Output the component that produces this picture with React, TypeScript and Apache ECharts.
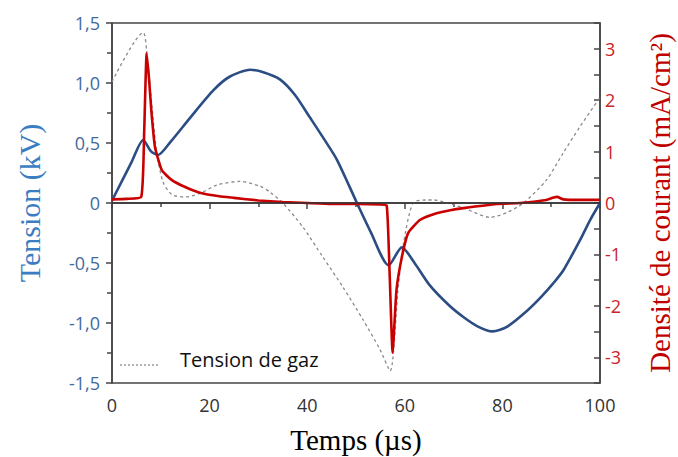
import React, { useEffect, useRef } from "react";
import * as echarts from "echarts";

// Temps (µs) and tension (kV) — blue curve
const tensionTime = [0, 2, 4, 6.4, 8, 9.4, 12, 16, 20.8, 24, 28.3, 31, 34.4, 37.5, 40.6, 43.5, 46.1, 50.2, 53, 56.7, 59.4, 62, 65, 69, 72, 75, 78, 81, 85, 88, 90.4, 92.5, 95.9, 98, 100];
const tensionValues = [0.02, 0.18, 0.34, 0.525, 0.43, 0.4, 0.51, 0.71, 0.94, 1.05, 1.11, 1.09, 1.03, 0.9, 0.71, 0.53, 0.36, 0.0, -0.24, -0.52, -0.37, -0.5, -0.68, -0.85, -0.95, -1.03, -1.07, -1.03, -0.9, -0.78, -0.67, -0.56, -0.31, -0.14, 0.0];

// Densité de courant (mA/cm²) — red curve
const currentTime = [0, 3, 6, 6.6, 7.1, 7.6, 8.1, 8.8, 10.2, 12.2, 15, 18, 22, 25, 30, 35, 40, 45, 50, 55, 56.3, 56.9, 57.5, 58.3, 59.4, 60.7, 63.1, 66.5, 69.3, 72, 78.9, 83.6, 89, 90.3, 91.2, 92.5, 96, 100];
const currentValues = [0.07, 0.08, 0.12, 1.4, 2.91, 2.4, 1.75, 1.09, 0.64, 0.45, 0.31, 0.2, 0.13, 0.1, 0.05, 0.02, 0.0, -0.02, -0.02, -0.03, -0.05, -1.4, -2.91, -1.69, -1.05, -0.58, -0.33, -0.2, -0.14, -0.1, -0.02, 0.0, 0.06, 0.1, 0.12, 0.07, 0.06, 0.06];

// Tension de gaz (kV) — grey dashed curve
const gasTime = [0, 6.4, 7.1, 8.2, 9.2, 10.5, 12.3, 15, 18, 21.5, 26.2, 30.3, 32.4, 35, 39.1, 43.2, 47.3, 51.4, 54.9, 57, 58.6, 59.6, 61.7, 64.5, 66, 68.6, 72, 77.5, 80.9, 84.3, 89, 92.5, 95.8, 100];
const gasValues = [1.01, 1.42, 1.27, 0.8, 0.41, 0.17, 0.07, 0.05, 0.08, 0.15, 0.18, 0.14, 0.09, 0.0, -0.2, -0.45, -0.7, -0.97, -1.22, -1.4, -0.73, -0.37, 0.0, 0.025, 0.025, 0.0, -0.04, -0.12, -0.08, 0.0, 0.19, 0.42, 0.63, 0.88];

const xTicks = { min: 0, max: 100, step: 20 };
const leftTicks = { min: -1.5, max: 1.5, step: 0.5 };
const rightTicks = { min: -3.5, max: 3.5, step: 0.5 };
const legendLabel = "Tension de gaz";

const pairs = (xs: number[], ys: number[]) => xs.map((x, i) => [x, ys[i]]);

export default function App() {
  const ref = useRef<HTMLDivElement>(null);
  useEffect(() => {
    if (!ref.current) return;
    const chart = echarts.init(ref.current, null, { renderer: "svg" });
    const sans = "Open Sans";
    const serif = "Liberation Serif";
    const axisColor = "#444";
    chart.setOption({
      animation: false,
      backgroundColor: "#ffffff",
      grid: {
        left: 112,
        right: 78,
        top: 23,
        bottom: 74,
        containLabel: false,
        outerBoundsMode: "none",
        show: true,
        borderColor: axisColor,
        borderWidth: 1.5,
        backgroundColor: "transparent",
      },
      graphic: [
        {
          type: "line",
          shape: { x1: 120, y1: 365, x2: 160, y2: 365 },
          style: { stroke: "#999", lineWidth: 1.3, lineDash: [2, 2] },
          silent: true,
        },
        {
          type: "text",
          x: 180,
          y: 359,
          style: {
            text: legendLabel,
            fontFamily: sans,
            fontSize: 20,
            fill: "#111",
            textVerticalAlign: "middle",
            textAlign: "left",
          },
          silent: true,
        },
      ],
      xAxis: {
        type: "value",
        min: xTicks.min,
        max: xTicks.max,
        interval: xTicks.step,
        name: "Temps (µs)",
        nameLocation: "middle",
        nameGap: 42,
        nameTextStyle: { fontFamily: serif, fontSize: 29, color: "#000" },
        axisLine: { show: true, lineStyle: { color: axisColor, width: 1.5 } },
        axisTick: { show: true, length: 6, lineStyle: { color: axisColor, width: 1.5 } },
        minorTick: { show: true, splitNumber: 2, length: 4, lineStyle: { color: axisColor, width: 1.5 } },
        splitLine: { show: false },
        minorSplitLine: { show: false },
        axisLabel: { fontFamily: sans, fontSize: 18, color: "#333", margin: 13 },
      },
      yAxis: [
        {
          type: "value",
          position: "left",
          min: leftTicks.min,
          max: leftTicks.max,
          interval: leftTicks.step,
          name: "Tension (kV)",
          nameLocation: "middle",
          nameRotate: 90,
          nameGap: 68,
          nameTextStyle: { fontFamily: serif, fontSize: 30, color: "#3b7dc2" },
          axisLine: { show: true, lineStyle: { color: axisColor, width: 1.5 } },
          axisTick: { show: true, length: 6, lineStyle: { color: axisColor, width: 1.5 } },
          minorTick: { show: true, splitNumber: 2, length: 5, lineStyle: { color: axisColor, width: 1.5 } },
          splitLine: { show: false },
          minorSplitLine: { show: false },
          axisLabel: {
            fontFamily: sans,
            fontSize: 18,
            color: "#3f6a9c",
            margin: 12,
            formatter: (v: number) => (Math.abs(v) < 1e-9 ? "0" : v.toFixed(1).replace(".", ",")),
          },
        },
        {
          type: "value",
          position: "right",
          min: rightTicks.min,
          max: rightTicks.max,
          interval: rightTicks.step,
          name: "Densité de courant (mA/cm²)",
          nameLocation: "middle",
          nameRotate: 90,
          nameGap: 45,
          nameTextStyle: { fontFamily: serif, fontSize: 29, color: "#c00000" },
          axisLine: { show: true, lineStyle: { color: axisColor, width: 1.5 } },
          axisTick: { show: true, inside: true, length: 6, lineStyle: { color: axisColor, width: 1.5 } },
          splitLine: { show: false },
          axisLabel: {
            fontFamily: sans,
            fontSize: 18,
            color: "#cc2229",
            margin: 5,
            formatter: (v: number) => {
              const r = Math.round(v);
              return Math.abs(v - r) < 1e-6 ? String(r) : "";
            },
          },
        },
      ],
      series: [
        {
          name: legendLabel,
          type: "line",
          yAxisIndex: 0,
          data: pairs(gasTime, gasValues),
          showSymbol: false,
          symbol: "none",
          smooth: 0.25,
          lineStyle: { color: "#8a8a8a", width: 1.3, type: [3, 3] },
          itemStyle: { color: "#8a8a8a" },
          z: 2,
        },
        {
          name: "Tension",
          type: "line",
          yAxisIndex: 0,
          data: pairs(tensionTime, tensionValues),
          showSymbol: false,
          symbol: "none",
          smooth: 0.25,
          lineStyle: { color: "#2b4d84", width: 2.6 },
          itemStyle: { color: "#2b4d84" },
          markLine: {
            silent: true,
            symbol: "none",
            label: { show: false },
            lineStyle: { color: "#333", width: 1.5, type: "solid" },
            data: [{ yAxis: 0 }],
          },
          z: 3,
        },
        {
          name: "Densité de courant",
          type: "line",
          yAxisIndex: 1,
          data: pairs(currentTime, currentValues),
          showSymbol: false,
          symbol: "none",
          smooth: 0.15,
          lineStyle: { color: "#c80000", width: 2.6 },
          itemStyle: { color: "#c80000" },
          z: 4,
        },
      ],
    });
    return () => chart.dispose();
  }, []);
  return (
    <div
      ref={ref}
      style={{ position: "fixed", left: 0, top: 0, width: 678, height: 457 }}
    />
  );
}
